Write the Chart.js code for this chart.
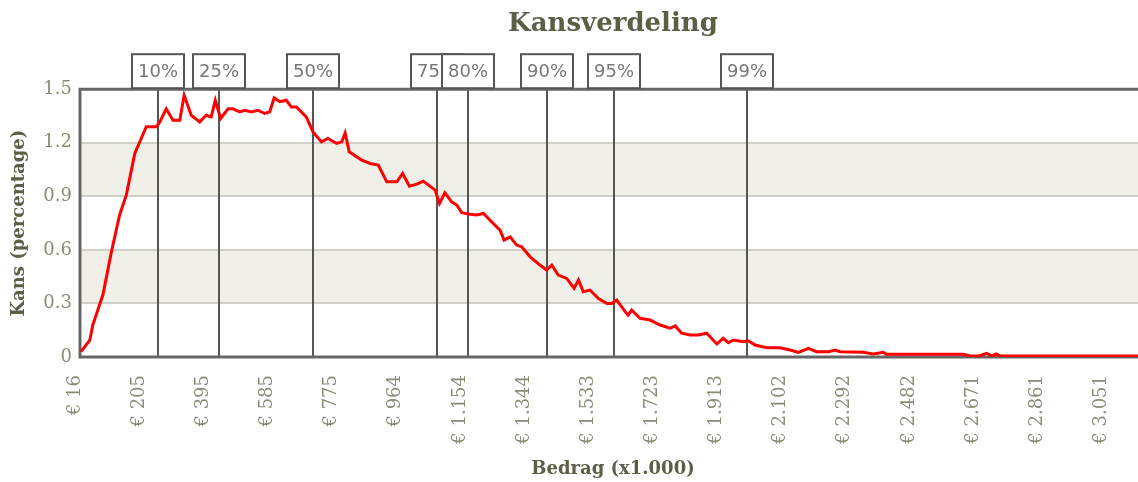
<!DOCTYPE html>
<html>
<head>
<meta charset="utf-8">
<script src="https://cdn.jsdelivr.net/npm/chart.js@4"></script>
<style>
  html, body { margin: 0; padding: 0; background: #fff; overflow: hidden; }
</style>
</head>
<body>
<canvas id="chart" width="1146" height="482"></canvas>
<script>
// bedrag (in euro x1.000) en kans (percentage)
const amounts = [19, 45, 54, 84, 109, 133, 153, 178, 212, 242, 252, 271, 291, 311, 324, 345, 370, 389, 404, 416,
  432, 454, 468, 488, 503, 523, 542, 562, 577, 590, 607, 626, 641, 656, 685, 705, 730, 749, 775, 790,
  800, 812, 849, 874, 898, 923, 953, 970, 990, 1012, 1031, 1066, 1079, 1095, 1115, 1130, 1145, 1169, 1189, 1209,
  1238, 1258, 1270, 1288, 1307, 1322, 1347, 1376, 1396, 1411, 1430, 1455, 1477, 1490, 1504, 1524, 1549, 1574, 1588, 1603,
  1628, 1637, 1647, 1672, 1702, 1731, 1761, 1776, 1795, 1820, 1844, 1869, 1899, 1918, 1933, 1948, 1977, 1992, 2012, 2047,
  2086, 2116, 2140, 2170, 2194, 2229, 2249, 2263, 2332, 2362, 2391, 2401, 2628, 2648, 2677, 2697, 2712, 2725, 2737, 3168]
const kans = [0.03, 0.095, 0.18, 0.35, 0.59, 0.795, 0.907, 1.14, 1.29, 1.29, 1.317, 1.39, 1.326, 1.326, 1.466, 1.354, 1.317, 1.354, 1.345, 1.438,
  1.336, 1.39, 1.39, 1.373, 1.382, 1.373, 1.382, 1.364, 1.373, 1.451, 1.43, 1.438, 1.40, 1.40, 1.345, 1.261, 1.205, 1.224, 1.196, 1.205,
  1.255, 1.149, 1.103, 1.084, 1.075, 0.981, 0.981, 1.028, 0.957, 0.968, 0.985, 0.935, 0.86, 0.92, 0.869, 0.851, 0.808, 0.80, 0.795, 0.804,
  0.748, 0.711, 0.655, 0.673, 0.627, 0.617, 0.561, 0.515, 0.487, 0.515, 0.459, 0.44, 0.385, 0.431, 0.366, 0.375, 0.328, 0.30, 0.30, 0.319,
  0.254, 0.235, 0.263, 0.217, 0.207, 0.179, 0.161, 0.174, 0.133, 0.123, 0.123, 0.133, 0.073, 0.105, 0.08, 0.095, 0.086, 0.091, 0.067, 0.052,
  0.052, 0.039, 0.026, 0.049, 0.03, 0.03, 0.039, 0.03, 0.026, 0.017, 0.026, 0.015, 0.015, 0.006, 0.007, 0.02, 0.006, 0.017, 0.006, 0.006]

const xTicks = [16, 205, 395, 585, 775, 964, 1154, 1344, 1533, 1723, 1913, 2102, 2292, 2482, 2671, 2861, 3051]
const xTickLabels = ['€ 16', '€ 205', '€ 395', '€ 585', '€ 775', '€ 964', '€ 1.154', '€ 1.344', '€ 1.533',
  '€ 1.723', '€ 1.913', '€ 2.102', '€ 2.292', '€ 2.482', '€ 2.671', '€ 2.861', '€ 3.051']
const yTicks = [0, 0.3, 0.6, 0.9, 1.2, 1.5]

const percentiles = ['10%', '25%', '50%', '75%', '80%', '90%', '95%', '99%']
const percentileAmounts = [247, 427, 705, 1072, 1163, 1397, 1595, 1988]

const titleColor = '#5c5e48'
const tickColor = '#8b8b78'

// achtergrondbanden tussen de rasterlijnen
const bands = {
  id: 'bands',
  beforeDraw (chart) {
    const { ctx, chartArea: a, scales: { y } } = chart
    ctx.save()
    ctx.fillStyle = '#f0f0e8'
    for (let i = 1; i < yTicks.length - 1; i += 2) {
      const top = y.getPixelForValue(yTicks[i + 1])
      const bottom = y.getPixelForValue(yTicks[i])
      ctx.fillRect(a.left, top, a.width, bottom - top)
    }
    ctx.restore()
  }
}

// percentiel lijnen en het kader om de grafiek
const markers = {
  id: 'markers',
  beforeDatasetsDraw (chart) {
    const { ctx, chartArea: a, scales: { x } } = chart
    ctx.save()
    ctx.strokeStyle = '#555'
    ctx.lineWidth = 2
    percentileAmounts.forEach(v => {
      const px = Math.round(x.getPixelForValue(v))
      ctx.beginPath()
      ctx.moveTo(px, a.top)
      ctx.lineTo(px, a.bottom)
      ctx.stroke()
    })
    ctx.strokeStyle = '#666'
    ctx.lineWidth = 3
    ctx.beginPath()
    ctx.moveTo(a.right, a.top)
    ctx.lineTo(a.left, a.top)
    ctx.lineTo(a.left, a.bottom)
    ctx.lineTo(a.right, a.bottom)
    ctx.stroke()
    ctx.restore()
  },
  afterDraw (chart) {
    const { ctx, chartArea: a, scales: { x } } = chart
    ctx.save()
    ctx.font = '18px "DejaVu Sans"'
    ctx.textAlign = 'center'
    ctx.textBaseline = 'middle'
    percentileAmounts.forEach((v, i) => {
      const px = Math.round(x.getPixelForValue(v))
      const w = 52
      const h = 34
      const top = a.top - h - 1
      ctx.fillStyle = '#fff'
      ctx.fillRect(px - w / 2, top, w, h)
      ctx.strokeStyle = '#555'
      ctx.lineWidth = 2
      ctx.strokeRect(px - w / 2, top, w, h)
      ctx.fillStyle = '#777'
      ctx.fillText(percentiles[i], px, top + h / 2 + 1)
    })
    ctx.restore()
  }
}

new Chart(document.getElementById('chart'), {
  type: 'line',
  data: {
    datasets: [
      {
        label: 'Kans',
        data: amounts.map((a, i) => ({ x: a, y: kans[i] })),
        borderColor: '#ff0000',
        borderWidth: 3,
        pointRadius: 0,
        tension: 0,
        fill: false
      }
    ]
  },
  options: {
    responsive: false,
    animation: false,
    layout: { padding: 0 },
    plugins: {
      legend: { display: false },
      tooltip: { enabled: false },
      title: {
        display: true,
        text: 'Kansverdeling',
        color: titleColor,
        fullSize: false,
        font: { family: 'DejaVu Serif', size: 26, weight: 'bold' },
        padding: { top: 9, bottom: 49 }
      }
    },
    scales: {
      x: {
        type: 'linear',
        min: 16,
        max: 3168,
        afterBuildTicks: s => { s.ticks = xTicks.map(v => ({ value: v })) },
        afterFit: s => { s.height = 125 },
        grid: { display: false },
        border: { display: false },
        ticks: {
          autoSkip: false,
          minRotation: 90,
          maxRotation: 90,
          padding: 10,
          labelOffset: -5,
          color: tickColor,
          font: { family: 'DejaVu Serif', size: 18 },
          callback: (v, i) => xTickLabels[i]
        },
        title: {
          display: true,
          text: 'Bedrag (x1.000)',
          color: titleColor,
          font: { family: 'DejaVu Serif', size: 18, weight: 'bold' },
          padding: { top: 0, bottom: 2 }
        }
      },
      y: {
        min: 0,
        max: 1.5,
        afterBuildTicks: s => { s.ticks = yTicks.map(v => ({ value: v })) },
        afterFit: s => { s.width = 80 },
        grid: { color: '#d0d0c8', lineWidth: 2, drawTicks: false },
        border: { display: false },
        ticks: {
          padding: 8,
          color: tickColor,
          font: { family: 'DejaVu Serif', size: 18 },
          callback: v => String(v)
        },
        title: {
          display: true,
          text: 'Kans (percentage)',
          color: titleColor,
          font: { family: 'DejaVu Serif', size: 18, weight: 'bold' },
          padding: { top: 9, bottom: 0 }
        }
      }
    }
  },
  plugins: [bands, markers]
})
</script>
</body>
</html>
